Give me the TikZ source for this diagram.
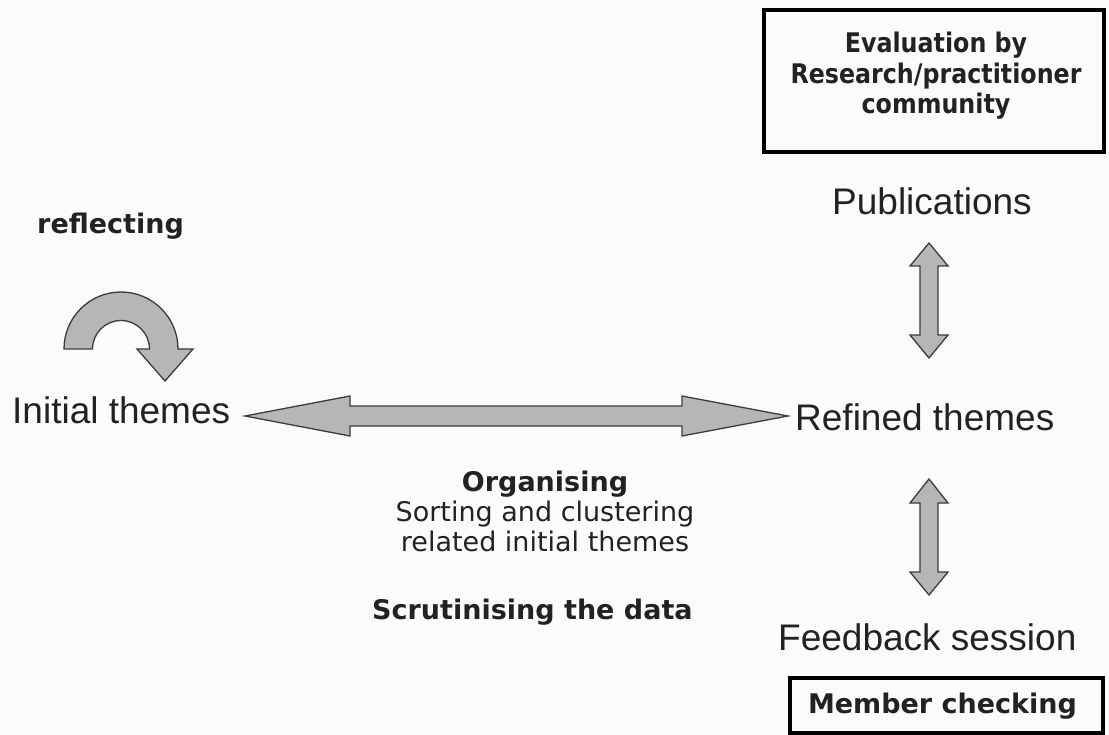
\documentclass[tikz,border=0pt]{standalone}
\usepackage{fontspec}
\setmainfont{Liberation Sans}
\newfontfamily\dejavu{DejaVu Sans}
\newfontfamily\dejavunarrow{DejaVu Sans}[FakeStretch=0.88]
\definecolor{paper}{HTML}{FBFBFB}
\definecolor{ink}{HTML}{222222}
\definecolor{arrowfill}{HTML}{B6B6B6}
\definecolor{arrowline}{HTML}{3C3C3C}
\tikzset{
  big/.style={inner sep=0pt, text=ink, font=\fontsize{37}{40}\selectfont},
  bold/.style={inner sep=0pt, text=ink, font=\dejavu\bfseries\fontsize{27}{30}\selectfont},
  plain/.style={inner sep=0pt, text=ink, font=\dejavu\fontsize{27}{30}\selectfont},
  framed/.style={draw=black, line width=3.5pt, inner sep=0pt},
  fat/.style={fill=arrowfill, draw=arrowline, line width=1.3pt, line join=miter},
}
\begin{document}
\begin{tikzpicture}[x=1pt, y=-1pt]
  \fill[paper] (0,0) rectangle (1109,735);
  \useasboundingbox (0,0) rectangle (1109,735);

  % left side
  \node[bold, anchor=base west] (reflect) at (37,234) {reflecting};
  \node[big, anchor=base west] (initial) at (12,423) {Initial themes};

  % curved "reflecting" arrow
  \path[fat] (64,349) arc[start angle=180, end angle=360, radius=57]
    -- (193,349) -- (165,381) -- (137,349) -- (149.5,349)
    arc[start angle=360, end angle=180, radius=28.5] -- cycle;

  % right column
  \node[framed, minimum width=340pt, minimum height=142pt] (evalbox) at (934,81) {};
  \node[inner sep=0pt, text=ink, align=center,
        font=\dejavunarrow\bfseries\fontsize{27}{30.5}\selectfont] (evaltext) at (936,76)
        {Evaluation by\\Research/practitioner\\community};
  \node[big, anchor=base west] (pub) at (832,215) {Publications};
  \node[big, anchor=base west] (refined) at (795,430) {Refined themes};
  \node[big, anchor=base west] (feedback) at (778,650) {Feedback session};
  \node[framed, minimum width=313pt, minimum height=55pt] (memberbox) at (946.5,705.5) {};
  \node[bold] (member) at (942.5,706) {Member checking};

  % middle labels
  \node[plain, align=center] (organising) at (545,511.5)
        {\bfseries Organising\\Sorting and clustering\\related initial themes};
  \node[bold, anchor=base west] (scrutinise) at (372,619) {Scrutinising the data};

  % horizontal double arrow between the theme labels
  \path[fat] (245,416) -- (350,396) -- (350,406) -- (682,406) -- (682,396)
    -- (788,416) -- (682,436) -- (682,426) -- (350,426) -- (350,436) -- cycle;

  % vertical double arrows
  \path[fat] (929,243) -- (948,266) -- (938,266) -- (938,335) -- (948,335)
    -- (929,358) -- (910,335) -- (920,335) -- (920,266) -- (910,266) -- cycle;
  \path[fat] (929,479) -- (948,503) -- (938,503) -- (938,572) -- (948,572)
    -- (929,595) -- (910,572) -- (920,572) -- (920,503) -- (910,503) -- cycle;
\end{tikzpicture}
\end{document}
